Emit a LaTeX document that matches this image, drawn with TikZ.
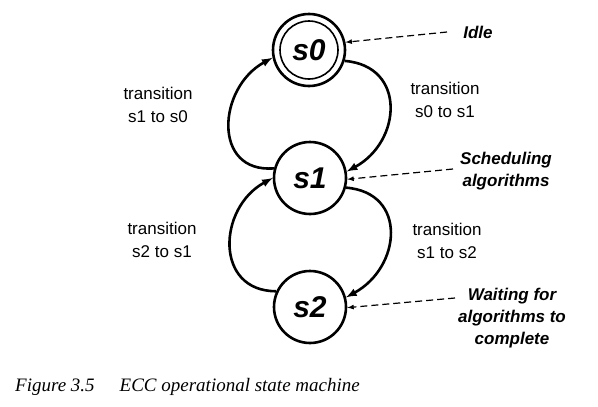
\documentclass[tikz,border=0pt]{standalone}
\usepackage{fontspec}
\setmainfont{Liberation Serif}
\newfontfamily\helv{Liberation Sans}
\usetikzlibrary{arrows}

\begin{document}
\begin{tikzpicture}[>=latex,x=1pt,y=-1pt,
        state/.style={circle,draw,line width=2.6pt,minimum size=72pt,inner sep=0pt,font=\helv\bfseries\itshape\fontsize{30}{30}\selectfont},
        trans/.style={align=center,font=\helv\fontsize{17}{23}\selectfont},
        note/.style={align=center,font=\helv\bfseries\itshape\fontsize{17}{22}\selectfont},
        move/.style={->,line width=2.6pt},
        hint/.style={->,line width=1.2pt,dash pattern=on 7pt off 4pt}]
        \useasboundingbox (0,0) rectangle (598,407);
        \node[state] (s0) at (309,50) {s0};
        \draw[line width=1.6pt] (s0) circle (29);
        \node[state] (s1) at (310,178) {s1};
        \node[state] (s2) at (310,307) {s2};
        \draw[move] (s1.165) .. controls +(-62,5) and +(-55,30) .. (s0.192);
        \draw[move] (s0.-17) .. controls +(62,5) and +(55,-30) .. (s1.10);
        \draw[move] (s1.-15) .. controls +(62,5) and +(55,-30) .. (s2.15);
        \draw[move] (s2.155) .. controls +(-62,0) and +(-55,30) .. (s1.180);
        \node[trans] (t10) at (158,105) {transition\\s1 to s0};
        \node[trans] (t01) at (445,100) {transition\\s0 to s1};
        \node[trans] (t21) at (162,240) {transition\\s2 to s1};
        \node[trans] (t12) at (447,241) {transition\\s1 to s2};
        \node[note] (idle) at (478,32) {Idle};
        \node[note] (sched) at (506,171) {Scheduling\\algorithms};
        \node[note] (wait) at (512,318) {Waiting for\\algorithms to\\complete};
        \coordinate (idle-in) at (447,32);
        \coordinate (sched-in) at (453,169);
        \coordinate (wait-in) at (455,298);
        \draw[hint] (idle-in) -- (s0.12);
        \draw[hint] (sched-in) -- (s1.-2);
        \draw[hint] (wait-in) -- (s2.-1);
        \node[anchor=west,inner sep=0pt,font=\itshape\fontsize{19}{19}\selectfont] (cap) at (15,387) {Figure 3.5\hspace{25pt}ECC operational state machine};
    \end{tikzpicture}
\end{document}
